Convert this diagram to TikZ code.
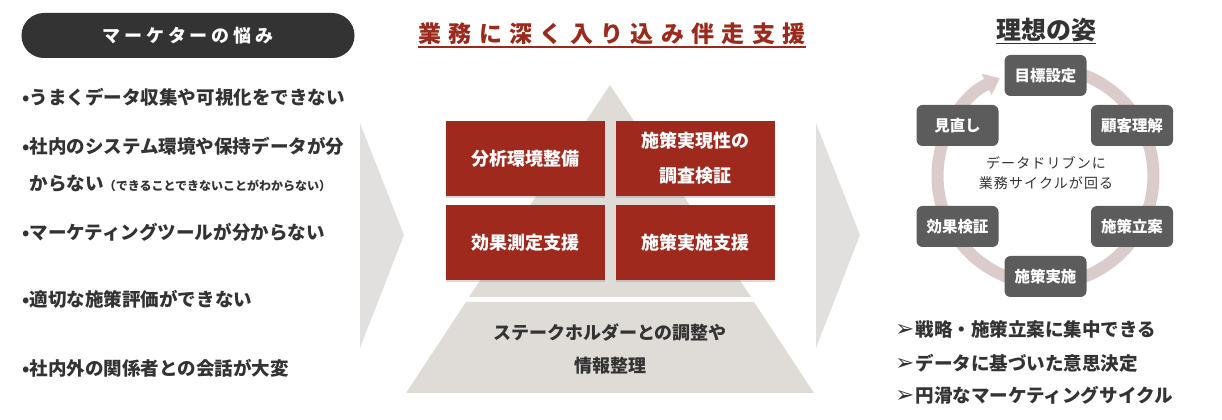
\documentclass[tikz,border=0pt]{standalone}
\usepackage{fontspec}
\setmainfont{Noto Sans CJK JP}
\newfontfamily\dingfont{DejaVu Sans}
\usetikzlibrary{arrows.meta,shadows}

\definecolor{ink}{HTML}{333333}
\definecolor{brick}{HTML}{A0291E}
\definecolor{titlered}{HTML}{9B2A1C}
\definecolor{chevron}{HTML}{E1E0DF}
\definecolor{pyramid}{HTML}{DFDCD8}
\definecolor{cyclegray}{HTML}{5C5C5C}
\definecolor{ringpink}{HTML}{DCCBCB}

\begin{document}
\begin{tikzpicture}[
    x=0.75pt, y=-0.75pt,
    pill/.style={fill=ink, rounded corners=16.8pt, minimum width=249.75pt, minimum height=33.75pt,
        text=white, font=\fontsize{13.5pt}{15pt}\selectfont\bfseries\addfontfeature{LetterSpace=22}},
    worry/.style={anchor=west, inner sep=0pt, text=ink, font=\fontsize{13.9pt}{27.75pt}\selectfont\bfseries},
    heading/.style={inner xsep=0pt, inner ysep=1.5pt, text=titlered,
        font=\fontsize{17.25pt}{20pt}\selectfont\bfseries\addfontfeature{LetterSpace=32}},
    task/.style={fill=brick, minimum width=119.25pt, minimum height=56.25pt, align=center, text=white,
        font=\fontsize{13.5pt}{26.25pt}\selectfont\bfseries,
        drop shadow={shadow xshift=0pt, shadow yshift=-1.5pt, opacity=.3}},
    basetext/.style={align=center, text=ink, font=\fontsize{13.5pt}{24.75pt}\selectfont\bfseries},
    ideal/.style={inner xsep=0pt, inner ysep=1pt, text=ink, font=\fontsize{18.75pt}{22pt}\selectfont\bfseries},
    cyclebox/.style={fill=cyclegray, rounded corners=4.5pt, minimum width=61.5pt, minimum height=30.75pt,
        text=white, font=\fontsize{11.6pt}{14pt}\selectfont\bfseries},
    hubtext/.style={align=center, text=ink, font=\fontsize{10.5pt}{15pt}\selectfont\addfontfeature{LetterSpace=8}},
    gain/.style={anchor=west, inner sep=0pt, text=ink, font=\fontsize{13.9pt}{18pt}\selectfont\bfseries},
    ring/.style={ringpink, line width=9pt, -{Triangle[width=17pt, length=11pt]}}
]
    \useasboundingbox (0,0) rectangle (1222,420);

    % left: worries
    \node[pill] (pill) at (188,35.5) {マーケターの悩み};
    \node[worry] (w1) at (22,97) {•うまくデータ収集や可視化をできない};
    \node[worry, align=left] (w2) at (22,164.5) {•社内のシステム環境や保持データが分\\\phantom{•}からない{\fontsize{9pt}{10pt}\selectfont （できることできないことがわからない）}};
    \node[worry] (w3) at (22,232) {•マーケティングツールが分からない};
    \node[worry] (w4) at (22,299) {•適切な施策評価ができない};
    \node[worry] (w5) at (22,368) {•社内外の関係者との会話が大変};

    % chevrons
    \fill[chevron] (360,123) -- (404,235) -- (360,348) -- cycle;
    \fill[chevron] (816,123) -- (860,235) -- (816,348) -- cycle;

    % middle: support pyramid
    \node[heading] (support) at (612,34) {業務に深く入り込み伴走支援};
    \draw[titlered, line width=1.5pt] (support.south west) -- (support.south east);

    \fill[pyramid] (610,85) -- (751,297) -- (469,297) -- cycle;
    \fill[pyramid] (466,302) -- (754,302) -- (814,393) -- (406,393) -- cycle;

    \node[task] (t1) at (525.5,158.5) {分析環境整備};
    \node[task] (t2) at (695.5,158.5) {施策実現性の\\調査検証};
    \node[task] (t3) at (525.5,242.5) {効果測定支援};
    \node[task] (t4) at (695.5,242.5) {施策実施支援};
    \node[basetext] (base) at (610,348.5) {ステークホルダーとの調整や\\情報整理};

    % right: ideal cycle
    \node[ideal] (ideal) at (1046,30) {理想の姿};
    \draw[ink, line width=1.2pt] (ideal.south west) -- (ideal.south east);

    \coordinate (hub) at (1045.5,176);
    \draw[ring] ([shift={(90:81pt)}]hub) arc[start angle=90, end angle=-245, radius=81pt];

    \node[cyclebox] (goal) at (1045.5,75.5) {目標設定};
    \node[cyclebox] (know) at (1132,125.5) {顧客理解};
    \node[cyclebox] (plan) at (1132,226.5) {施策立案};
    \node[cyclebox] (run) at (1045.5,276.5) {施策実施};
    \node[cyclebox] (check) at (957.5,226.5) {効果検証};
    \node[cyclebox] (review) at (957.5,125.5) {見直し};
    \node[hubtext] (hubtext) at (1046,173) {データドリブンに\\業務サイクルが回る};

    \node[gain] (g1) at (895,329) {{\dingfont\fontsize{17pt}{18pt}\selectfont\bfseries ➢}\hspace{1pt}戦略・施策立案に集中できる};
    \node[gain] (g2) at (895,363) {{\dingfont\fontsize{17pt}{18pt}\selectfont\bfseries ➢}\hspace{1pt}データに基づいた意思決定};
    \node[gain] (g3) at (895,395) {{\dingfont\fontsize{17pt}{18pt}\selectfont\bfseries ➢}\hspace{1pt}円滑なマーケティングサイクル};
\end{tikzpicture}
\end{document}
